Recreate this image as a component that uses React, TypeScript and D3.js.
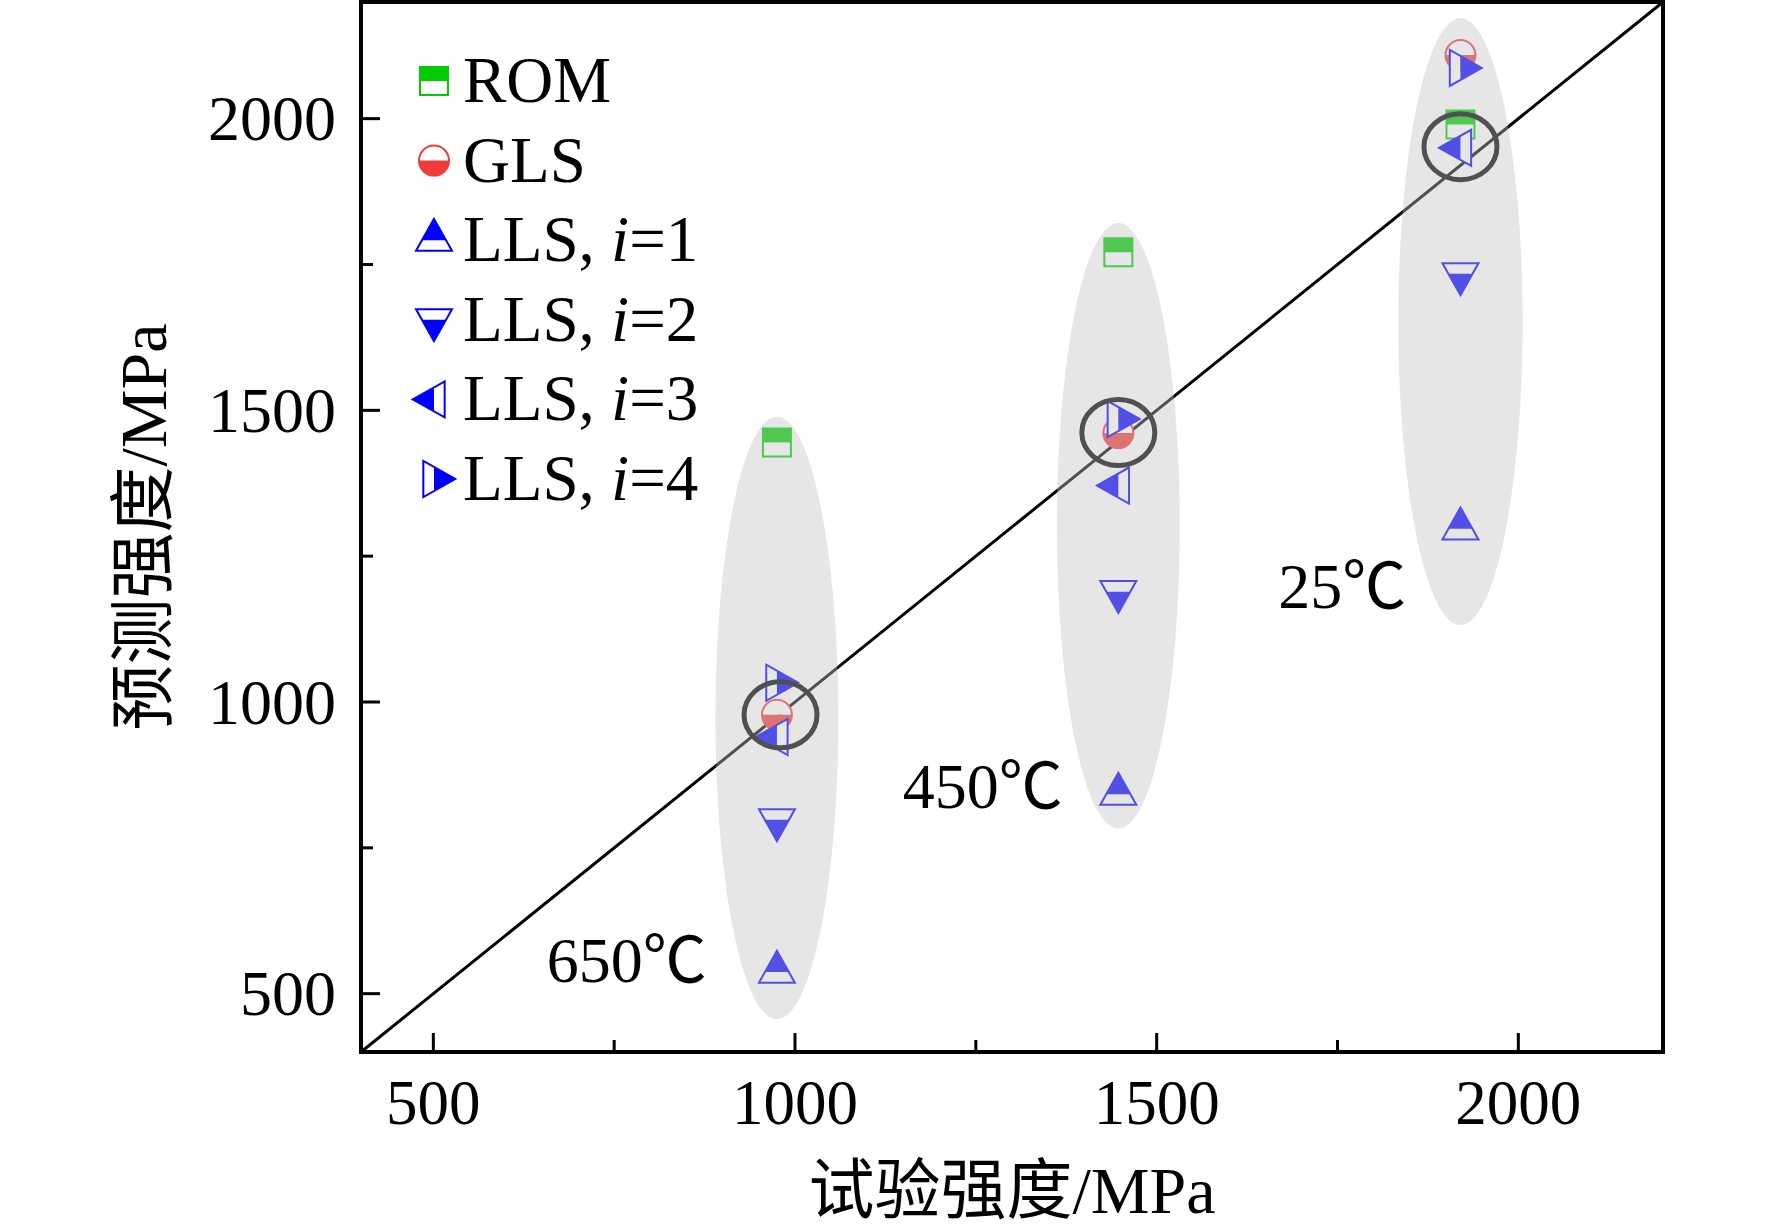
import * as React from 'react';
import * as d3 from 'd3';

// test strength of each temperature group (x) and predicted strengths (y)
const temps = ['650℃', '450℃', '25℃'];
const testStrength = [975, 1447, 1920];
const romValues = [1445, 1771, 1990];
const glsValues = [978, 1461, 2109];
const lls1Values = [537, 842, 1297];
const lls2Values = [798, 1189, 1734];
const lls3Values = [940, 1371, 1950];
const lls4Values = [1033, 1485, 2087];

const majorTicks = [500, 1000, 1500, 2000];
const minorTicks = [750, 1250, 1750];

// grey bands around each temperature group, in data units
const groupTop = [1489, 1821, 2172];
const groupBottom = [456, 783, 1132];
const groupHalfWidth = [85, 85, 86];
// circled points near the diagonal
const circledX = [980, 1447, 1920];
const circledY = [978, 1462, 1952];
// temperature label anchors (text end, baseline)
const labelX = [878, 1370, 1845];
const labelY = [520, 818, 1161];

type Shape = 'square' | 'circle' | 'up' | 'down' | 'left' | 'right';

const series: { name: string; idx?: number; values: number[]; shape: Shape; color: string }[] = [
  { name: 'ROM', values: romValues, shape: 'square', color: '#00CC00' },
  { name: 'GLS', values: glsValues, shape: 'circle', color: '#F03C3C' },
  { name: 'LLS', idx: 1, values: lls1Values, shape: 'up', color: '#0000FF' },
  { name: 'LLS', idx: 2, values: lls2Values, shape: 'down', color: '#0000FF' },
  { name: 'LLS', idx: 3, values: lls3Values, shape: 'left', color: '#0000FF' },
  { name: 'LLS', idx: 4, values: lls4Values, shape: 'right', color: '#0000FF' },
];

const W = 1772, H = 1228;
const font = '"Times New Roman", "Liberation Serif", "Noto Sans CJK SC", serif';

const x = d3.scaleLinear().domain([400, 2200]).range([361, 1663]);
const y = d3.scaleLinear().domain([400, 2200]).range([1052, 2]);

const poly = (pts: [number, number][]) => 'M' + pts.map(p => p.join(',')).join('L') + 'Z';

// returns [filled half, empty half, outline] around the centroid
function markerParts(shape: Shape): [string, string, string] {
  const s = 14, r = 15;
  const tw = 18, th = 32; // triangle half-base and height
  const a = (th * 2) / 3, b = th / 3, k = tw * (2 / 3);
  switch (shape) {
    case 'square':
      return [poly([[-s, -s], [s, -s], [s, 0], [-s, 0]]), poly([[-s, 0], [s, 0], [s, s], [-s, s]]),
        poly([[-s, -s], [s, -s], [s, s], [-s, s]])];
    case 'circle':
      return [`M${-r},0A${r},${r} 0 0 0 ${r},0Z`, `M${-r},0A${r},${r} 0 0 1 ${r},0Z`,
        `M${-r},0A${r},${r} 0 1 1 ${r},0A${r},${r} 0 1 1 ${-r},0Z`];
    case 'up':
      return [poly([[0, -a], [k, 0], [-k, 0]]), poly([[-k, 0], [k, 0], [tw, b], [-tw, b]]),
        poly([[0, -a], [tw, b], [-tw, b]])];
    case 'down':
      return [poly([[0, a], [k, 0], [-k, 0]]), poly([[-k, 0], [k, 0], [tw, -b], [-tw, -b]]),
        poly([[0, a], [tw, -b], [-tw, -b]])];
    case 'left':
      return [poly([[-a, 0], [0, k], [0, -k]]), poly([[0, -k], [0, k], [b, tw], [b, -tw]]),
        poly([[-a, 0], [b, tw], [b, -tw]])];
    case 'right':
      return [poly([[a, 0], [0, k], [0, -k]]), poly([[0, -k], [0, k], [-b, tw], [-b, -tw]]),
        poly([[a, 0], [-b, tw], [-b, -tw]])];
  }
}

function Marker({ cx, cy, shape, color }: { cx: number; cy: number; shape: Shape; color: string }) {
  const [filled, empty, outline] = markerParts(shape);
  return (
    <g transform={`translate(${cx},${cy})`}>
      <path d={empty} fill="#fff" />
      <path d={filled} fill={color} />
      <path d={outline} fill="none" stroke={color} strokeWidth={2} strokeLinejoin="miter" />
    </g>
  );
}

export default function App() {
  const [x0, x1] = x.range();
  const [y0, y1] = y.range();
  const diag = d3.line<number>().x(d => x(d)).y(d => y(d))([400, 2200]) as string;

  return (
    <svg width={W} height={H} style={{ position: 'absolute', left: 0, top: 0, background: '#fff' }}
      fontFamily={font}>
      <rect width={W} height={H} fill="#fff" />

      <path d={diag} stroke="#000" strokeWidth={3} fill="none" />

      {series.map((s, si) =>
        s.values.map((v, i) => (
          <Marker key={`${si}-${i}`} cx={x(testStrength[i])} cy={y(v)} shape={s.shape} color={s.color} />
        ))
      )}

      {circledX.map((cx, i) => (
        <ellipse key={`c${i}`} cx={x(cx)} cy={y(circledY[i])} rx={36.5} ry={33}
          fill="none" stroke="#000" strokeWidth={5} />
      ))}

      {temps.map((t, i) => {
        const top = y(groupTop[i]), bottom = y(groupBottom[i]);
        return (
          <ellipse key={`g${t}`} cx={x(testStrength[i])} cy={(top + bottom) / 2}
            rx={x(testStrength[i] + groupHalfWidth[i]) - x(testStrength[i])} ry={(bottom - top) / 2}
            fill="#c3c3c3" fillOpacity={0.41} />
        );
      })}

      {temps.map((t, i) => (
        <text key={`t${t}`} x={x(labelX[i])} y={y(labelY[i])} fontSize={64} textAnchor="end">{t}</text>
      ))}

      {/* frame */}
      <rect x={x0} y={y1} width={x1 - x0} height={y0 - y1} fill="none" stroke="#000" strokeWidth={4} />

      {majorTicks.map(t => (
        <g key={`mx${t}`}>
          <line x1={x(t)} x2={x(t)} y1={y0} y2={y0 - 19} stroke="#000" strokeWidth={3} />
          <text x={x(t)} y={1124} fontSize={63} textAnchor="middle">{t}</text>
          <line x1={x0} x2={x0 + 19} y1={y(t)} y2={y(t)} stroke="#000" strokeWidth={3} />
          <text x={336} y={y(t)} dy="0.34em" fontSize={64} textAnchor="end">{t}</text>
        </g>
      ))}
      {minorTicks.map(t => (
        <g key={`mn${t}`}>
          <line x1={x(t)} x2={x(t)} y1={y0} y2={y0 - 12} stroke="#000" strokeWidth={3} />
          <line x1={x0} x2={x0 + 12} y1={y(t)} y2={y(t)} stroke="#000" strokeWidth={3} />
        </g>
      ))}

      <text x={(x0 + x1) / 2} y={1213} fontSize={66} textAnchor="middle">试验强度/MPa</text>
      <text transform={`translate(166,${(y0 + y1) / 2}) rotate(-90)`} fontSize={66} textAnchor="middle">预测强度/MPa</text>

      {/* legend */}
      {series.map((s, i) => {
        const cy = 81 + i * 79.6;
        return (
          <g key={`l${i}`}>
            <Marker cx={434} cy={cy} shape={s.shape} color={s.color} />
            <text x={463} y={cy + 21} fontSize={65}>
              {s.idx === undefined ? s.name : (
                <>
                  <tspan>{s.name}, </tspan>
                  <tspan fontStyle="italic">i</tspan>
                  <tspan>={s.idx}</tspan>
                </>
              )}
            </text>
          </g>
        );
      })}
    </svg>
  );
}
